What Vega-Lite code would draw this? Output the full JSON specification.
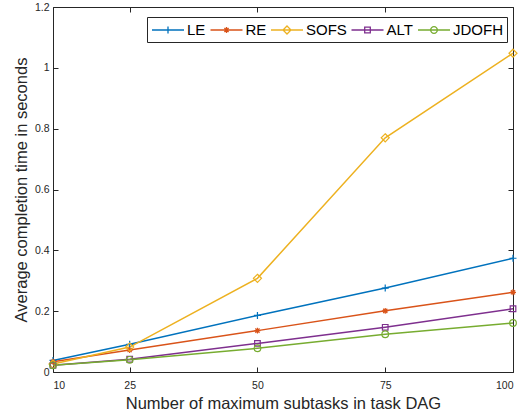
{
  "$schema": "https://vega.github.io/schema/vega-lite/v6.json",
  "width": 460,
  "height": 365,
  "autosize": {"type": "none"},
  "padding": {"left": 53, "top": 7, "right": 13, "bottom": 41},
  "background": "white",
  "config": {
    "font": "Liberation Sans",
    "view": {"stroke": "#262626", "strokeWidth": 1},
    "axis": {"grid": false, "domain": false, "tickColor": "#262626", "labelColor": "#262626", "titleColor": "#262626", "labelFont": "Liberation Sans", "titleFont": "Liberation Sans", "titleFontWeight": "normal"},
    "point": {"filled": false, "strokeWidth": 1.2, "size": 49, "opacity": 1}
  },
  "data": {
    "values": [
      {"n": 10, "method": "LE", "t": 0.038},
      {"n": 25, "method": "LE", "t": 0.091},
      {"n": 50, "method": "LE", "t": 0.186},
      {"n": 75, "method": "LE", "t": 0.276},
      {"n": 100, "method": "LE", "t": 0.374},
      {"n": 10, "method": "RE", "t": 0.034},
      {"n": 25, "method": "RE", "t": 0.072},
      {"n": 50, "method": "RE", "t": 0.136},
      {"n": 75, "method": "RE", "t": 0.201},
      {"n": 100, "method": "RE", "t": 0.262},
      {"n": 10, "method": "SOFS", "t": 0.026},
      {"n": 25, "method": "SOFS", "t": 0.082},
      {"n": 50, "method": "SOFS", "t": 0.308},
      {"n": 75, "method": "SOFS", "t": 0.770},
      {"n": 100, "method": "SOFS", "t": 1.048},
      {"n": 10, "method": "ALT", "t": 0.022},
      {"n": 25, "method": "ALT", "t": 0.042},
      {"n": 50, "method": "ALT", "t": 0.094},
      {"n": 75, "method": "ALT", "t": 0.147},
      {"n": 100, "method": "ALT", "t": 0.208},
      {"n": 10, "method": "JDOFH", "t": 0.022},
      {"n": 25, "method": "JDOFH", "t": 0.040},
      {"n": 50, "method": "JDOFH", "t": 0.078},
      {"n": 75, "method": "JDOFH", "t": 0.124},
      {"n": 100, "method": "JDOFH", "t": 0.161}
    ]
  },
  "layer": [
    {
      "mark": {"type": "line", "strokeWidth": 1.5},
      "encoding": {
        "x": {"field": "n", "type": "quantitative", "scale": {"domain": [10, 100], "nice": false, "zero": false},
          "axis": {"orient": "bottom", "values": [10, 25, 50, 75, 100], "tickSize": -5, "labelPadding": 13, "labelFontSize": 10.5,
            "title": "Number of maximum subtasks in task DAG", "titleFontSize": 16.5, "titleY": 36, "titleBaseline": "alphabetic"}},
        "y": {"field": "t", "type": "quantitative", "scale": {"domain": [0, 1.2], "nice": false},
          "axis": {"orient": "left", "values": [0, 0.2, 0.4, 0.6, 0.8, 1, 1.2], "format": ".1~f", "tickSize": -5, "labelPadding": 9, "labelFontSize": 10.5,
            "title": "Average completion time in seconds", "titleFontSize": 16.5, "titleAngle": -90, "titleX": -32, "titleY": 182.5, "titleAlign": "center", "titleBaseline": "middle"}},
        "color": {"field": "method", "type": "nominal",
          "scale": {"domain": ["LE", "RE", "SOFS", "ALT", "JDOFH"], "range": ["#0072BD", "#D95319", "#EDB120", "#7E2F8E", "#77AC30"]},
          "legend": {
            "title": null, "orient": "none", "direction": "horizontal", "legendX": 94, "legendY": 10,
            "strokeColor": "#262626", "fillColor": "white", "padding": 4, "cornerRadius": 0,
            "symbolSize": 256, "symbolOffset": 8, "symbolStrokeWidth": 1.3, "labelOffset": 10, "columnPadding": 1.5,
            "labelFontSize": 15, "labelColor": "#000000", "labelFont": "Liberation Sans",
            "encode": {"symbols": {"update": {
              "fill": {"value": "transparent"},
              "shape": {"signal": "datum.value === 'LE' ? 'M-2,0H2M0,-0.44V0.44' : datum.value === 'RE' ? 'M-2,0H2M0,-0.37V0.37M-0.26,-0.26L0.26,0.26M-0.26,0.26L0.26,-0.26' : datum.value === 'SOFS' ? 'M-2,0H2M0,-0.5L0.5,0L0,0.5L-0.5,0Z' : datum.value === 'ALT' ? 'M-2,0H2M-0.35,-0.35H0.35V0.35H-0.35Z' : 'M-2,0H2M0.42,0A0.42,0.42 0 1,1 -0.42,0A0.42,0.42 0 1,1 0.42,0Z'"}
            }}}
          }}
      }
    },
    {
      "transform": [{"filter": {"field": "method", "equal": "LE"}}],
      "mark": {"type": "point", "shape": "M-1,0H1M0,-1V1"},
      "encoding": {
        "x": {"field": "n", "type": "quantitative",
          "axis": {"orient": "top", "values": [10, 25, 50, 75, 100], "labels": false, "tickSize": -5, "title": null}},
        "y": {"field": "t", "type": "quantitative",
          "axis": {"orient": "right", "values": [0, 0.2, 0.4, 0.6, 0.8, 1, 1.2], "labels": false, "tickSize": -5, "title": null}},
        "color": {"field": "method", "type": "nominal", "legend": null}
      }
    },
    {
      "transform": [{"filter": {"field": "method", "equal": "RE"}}],
      "mark": {"type": "point", "shape": "M-0.85,0H0.85M0,-0.85V0.85M-0.6,-0.6L0.6,0.6M-0.6,0.6L0.6,-0.6"},
      "encoding": {
        "x": {"field": "n", "type": "quantitative", "axis": null},
        "y": {"field": "t", "type": "quantitative", "axis": null},
        "color": {"field": "method", "type": "nominal", "legend": null}
      }
    },
    {
      "transform": [{"filter": {"field": "method", "equal": "SOFS"}}],
      "mark": {"type": "point", "shape": "M0,-1.15L1.15,0L0,1.15L-1.15,0Z"},
      "encoding": {
        "x": {"field": "n", "type": "quantitative", "axis": null},
        "y": {"field": "t", "type": "quantitative", "axis": null},
        "color": {"field": "method", "type": "nominal", "legend": null}
      }
    },
    {
      "transform": [{"filter": {"field": "method", "equal": "ALT"}}],
      "mark": {"type": "point", "shape": "M-0.8,-0.8H0.8V0.8H-0.8Z"},
      "encoding": {
        "x": {"field": "n", "type": "quantitative", "axis": null},
        "y": {"field": "t", "type": "quantitative", "axis": null},
        "color": {"field": "method", "type": "nominal", "legend": null}
      }
    },
    {
      "transform": [{"filter": {"field": "method", "equal": "JDOFH"}}],
      "mark": {"type": "point", "shape": "M0.95,0A0.95,0.95 0 1,1 -0.95,0A0.95,0.95 0 1,1 0.95,0Z"},
      "encoding": {
        "x": {"field": "n", "type": "quantitative", "axis": null},
        "y": {"field": "t", "type": "quantitative", "axis": null},
        "color": {"field": "method", "type": "nominal", "legend": null}
      }
    }
  ],
  "resolve": {"axis": {"x": "independent", "y": "independent"}}
}
